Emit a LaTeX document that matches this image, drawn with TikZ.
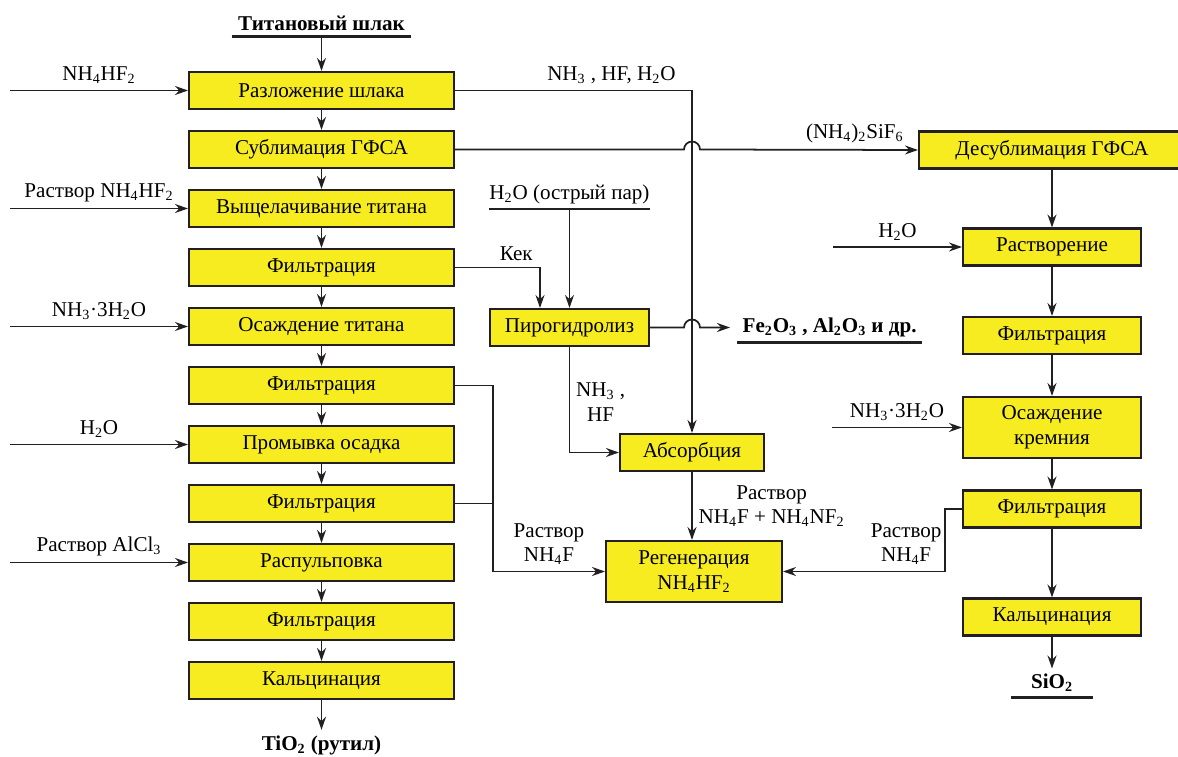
\documentclass[tikz,border=0pt]{standalone}
\usepackage{fontspec}
\setmainfont{Liberation Serif}
\usetikzlibrary{arrows.meta}

\definecolor{boxyellow}{RGB}{246,236,32}
\definecolor{linegray}{RGB}{35,31,32}
\newcommand{\basefont}{\fontsize{12}{14}\selectfont}
\newcommand{\ix}[1]{\textsubscript{#1}}

\tikzset{
  box/.style={draw=linegray, fill=boxyellow, line width=1.2pt, minimum height=0.74cm,
    align=center, inner sep=2pt},
  lbox/.style={box, minimum width=5.3cm},
  rbox/.style={box, minimum width=3.56cm},
  flow/.style={draw=linegray, line width=1pt, -{Stealth[length=2.6mm, width=1.8mm]}},
  pipe/.style={draw=linegray, line width=1pt},
  bar/.style={draw=linegray, line width=1.5pt},
  outlet/.style={font=\basefont\bfseries, inner ysep=3pt}
}

\begin{document}
\begin{tikzpicture}[x=0.02cm, y=-0.02cm, font=\basefont]
  \useasboundingbox (0,0) rectangle (1178,757);

  % Titanium line
  \node[outlet, inner xsep=3.5pt] (slag) at (321.5,23.5) {Титановый шлак};
  \draw[bar] (slag.south west) -- (slag.south east);
  \foreach \txt [count=\i] in {Разложение шлака, Сублимация ГФСА, Выщелачивание титана,
      Фильтрация, Осаждение титана, Фильтрация, Промывка осадка, Фильтрация,
      Распульповка, Фильтрация, Кальцинация}
    \node[lbox] (L\i) at (321.5,31.5+59*\i) {\txt};
  \node[outlet] (rutile) at (321.5,745) {TiO\ix2 (рутил)};

  \draw[flow] (slag.south) -- (L1);
  \foreach \i [remember=\i as \lasti (initially 1)] in {2,...,11}
    \draw[flow] (L\lasti) -- (L\i);
  \draw[flow] (L11) -- (rutile);

  % Reagents on the left
  \foreach \i/\txt in {1/{NH\ix4HF\ix2}, 3/{Раствор NH\ix4HF\ix2}, 5/{NH\ix3·3H\ix2O},
      7/{H\ix2O}, 9/{Раствор AlCl\ix3}} {
    \coordinate (F\i) at (10,31.5+59*\i);
    \draw[flow] (F\i) -- node[above] {\txt} (L\i);
  }

  % Middle part
  \node[inner xsep=0pt, inner ysep=3pt] (steam) at (569.5,194) {H\ix2O (острый пар)};
  \draw[bar] (steam.south west) -- (steam.south east);
  \node[box, minimum width=3.18cm] (pyro) at (569.5,327.5) {Пирогидролиз};
  \node[box, minimum width=2.88cm] (absorb) at (692,452.5) {Абсорбция};
  \node[box, minimum width=3.52cm, minimum height=1.22cm] (regen) at (694,571.5)
    {Регенерация\\NH\ix4HF\ix2};
  \node[outlet, anchor=west, inner xsep=3pt] (oxides) at (737,327.5)
    {Fe\ix2O\ix3 , Al\ix2O\ix3 и др.};
  \draw[bar] (oxides.south west) -- (oxides.south east);

  \draw[flow] (steam.south) -- (steam.south |- pyro.north);
  \draw[flow] (L4.east) -| node[above, pos=0.36] {Кек} ([xshift=-0.59cm]pyro.north);
  \draw[flow] (L1.east) -| node[above, pos=0.33] {NH\ix3 , HF, H\ix2O} (absorb.north);

  % Hops over the gas line
  \coordinate (hopA) at (L2.east -| absorb.north);
  \coordinate (hopB) at (pyro.east -| absorb.north);
  \draw[flow, shorten >=0.14cm] (pyro.east) -- ([xshift=-0.16cm]hopB)
    arc[start angle=180, end angle=0, radius=0.16cm] -- (oxides.west);

  \draw[flow] (pyro.south) |- node[right, pos=0.26, align=center] {NH\ix3 ,\\HF} (absorb.west);
  \draw[flow] (absorb.south) -- node[right, align=center] {Раствор\\NH\ix4F + NH\ix4NF\ix2}
    (absorb.south |- regen.north);

  % Solution NH4F from the filtrations
  \coordinate (merge) at (493,0);
  \draw[pipe] (L6.east) -- (L6.east -| merge) -- (L8.east -| merge);
  \draw[pipe] (L8.east) -- (L8.east -| merge);
  \draw[flow] (L8.east -| merge) |- node[above, pos=0.75, align=center] {Раствор\\NH\ix4F}
    (regen.west);

  % Silicon line
  \node[box, minimum width=5.32cm] (desub) at (1052,150) {Десублимация ГФСА};
  \node[rbox] (R1) at (1052,247) {Растворение};
  \node[rbox] (R2) at (1052,335.5) {Фильтрация};
  \node[rbox, minimum height=1.22cm] (R3) at (1052,427.5) {Осаждение\\кремния};
  \node[rbox] (R4) at (1052,509) {Фильтрация};
  \node[rbox] (R5) at (1052,617) {Кальцинация};
  \node[outlet, inner xsep=11pt] (silica) at (1052,683) {SiO\ix2};
  \draw[bar] (silica.south west) -- (silica.south east);

  \draw[flow] (L2.east) -- ([xshift=-0.16cm]hopA)
    arc[start angle=180, end angle=0, radius=0.16cm]
    -- node[above, pos=0.71] {(NH\ix4)\ix2SiF\ix6} (desub.west);
  \draw[flow] (desub) -- (R1);
  \foreach \i [remember=\i as \lasti (initially 1)] in {2,...,5}
    \draw[flow] (R\lasti) -- (R\i);
  \draw[flow] (R5) -- (silica);

  \coordinate (W1) at (833,247);
  \coordinate (W3) at (832,427.5);
  \draw[flow] (W1) -- node[above] {H\ix2O} (R1);
  \draw[flow] (W3) -- node[above] {NH\ix3·3H\ix2O} (R3);

  \coordinate (bend) at (945,0);
  \draw[flow] (R4.west) -- (R4.west -| bend) |- node[above, pos=0.62, align=center]
    {Раствор\\NH\ix4F} (regen.east);
\end{tikzpicture}
\end{document}
